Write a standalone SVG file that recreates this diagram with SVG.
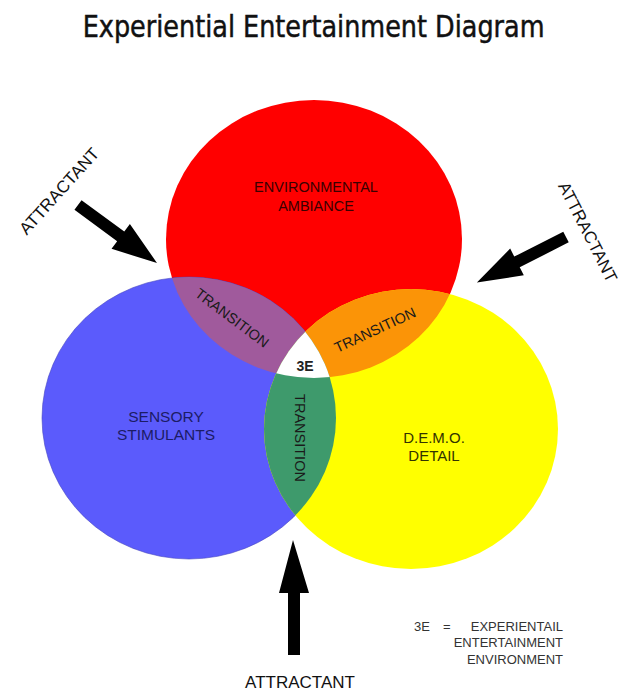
<svg xmlns="http://www.w3.org/2000/svg" width="625" height="694" viewBox="0 0 625 694">
  <style>
    .lbl { font-family: "Liberation Sans", Arial, sans-serif; text-anchor: middle; }
    .att { font-family: "Liberation Sans", Arial, sans-serif; font-size: 17px; fill: #111; text-anchor: middle; }
    .tr { font-family: "Liberation Sans", Arial, sans-serif; font-size: 14.5px; fill: #1a1a1a; text-anchor: middle; }
    .leg { font-family: "Liberation Sans", Arial, sans-serif; font-size: 13px; fill: #333; }
    .arrow { fill: #000; }
  </style>
  <defs>
    <clipPath id="cRed"><ellipse cx="314" cy="239" rx="148" ry="139"/></clipPath>
    <clipPath id="cBlue"><ellipse cx="189" cy="418" rx="147" ry="141"/></clipPath>
    <clipPath id="cYellow"><ellipse cx="411" cy="429" rx="147" ry="140"/></clipPath>
  </defs>
  <rect width="625" height="694" fill="#ffffff"/>

  <g id="title" transform="scale(0.85,1)">
    <text x="369" y="37" font-family="'DejaVu Sans', sans-serif" font-size="30" fill="#111" stroke="#111" stroke-width="0.5" text-anchor="middle">Experiential Entertainment Diagram</text>
  </g>

  <g id="environmental-ambiance">
    <ellipse cx="314" cy="239" rx="148" ry="139" fill="#ff0000"/>
  </g>
  <g id="sensory-stimulants">
    <ellipse cx="189" cy="418" rx="147" ry="141" fill="#5b5bfc" stroke="#4444c0" stroke-width="0.6"/>
  </g>
  <g id="demo-detail">
    <ellipse cx="411" cy="429" rx="147" ry="140" fill="#ffff00"/>
  </g>
  <g id="transition-purple">
    <ellipse cx="189" cy="418" rx="147" ry="141" fill="#a05a9c" clip-path="url(#cRed)"/>
  </g>
  <g id="transition-orange">
    <ellipse cx="411" cy="429" rx="147" ry="140" fill="#fb9407" clip-path="url(#cRed)"/>
  </g>
  <g id="transition-green">
    <ellipse cx="189" cy="418" rx="147" ry="141" fill="#3e9a6c" clip-path="url(#cYellow)"/>
  </g>
  <g id="center-3e">
    <g clip-path="url(#cRed)">
      <ellipse cx="411" cy="429" rx="147" ry="140" fill="#ffffff" clip-path="url(#cBlue)"/>
    </g>
    <text class="lbl" x="305" y="371" font-size="14" font-weight="bold" fill="#222">3E</text>
  </g>

  <g id="labels">
    <text class="lbl" x="316" y="192" font-size="14.5" fill="#3a0000">ENVIRONMENTAL</text>
    <text class="lbl" x="316" y="211" font-size="14.5" fill="#3a0000">AMBIANCE</text>
    <text class="lbl" x="166" y="422" font-size="15.5" fill="#1c1c66">SENSORY</text>
    <text class="lbl" x="166" y="440" font-size="15.5" fill="#1c1c66">STIMULANTS</text>
    <text class="lbl" x="434" y="443" font-size="15" fill="#333300">D.E.M.O.</text>
    <text class="lbl" x="434" y="461" font-size="15" fill="#333300">DETAIL</text>
    <text class="tr" transform="translate(232,318) rotate(37)" y="5">TRANSITION</text>
    <text class="tr" transform="translate(375,330) rotate(-25)" y="5">TRANSITION</text>
    <text class="tr" transform="translate(300,438) rotate(90)" y="5">TRANSITION</text>
  </g>

  <g id="connectors">
    <path class="arrow" transform="translate(78,205) rotate(36.3)" d="M0,-6 H53 V-15.5 L98,0 L53,15.5 V6 H0 Z"/>
    <path class="arrow" transform="translate(566,237) rotate(153)" d="M0,-6 H55 V-15 L100,0 L55,15 V6 H0 Z"/>
    <path class="arrow" d="M288,655 V593 H279 L293,540 L309,593 H300 V655 Z"/>
  </g>

  <g id="attractants">
    <text class="att" transform="translate(59,191) rotate(-48)" y="6">ATTRACTANT</text>
    <text class="att" transform="translate(588,232) rotate(63)" y="6">ATTRACTANT</text>
    <text class="att" x="300" y="688">ATTRACTANT</text>
  </g>

  <g id="legend">
    <text class="leg" x="414" y="631">3E</text>
    <text class="leg" x="443" y="631">=</text>
    <text class="leg" x="563" y="631" text-anchor="end">EXPERIENTAIL</text>
    <text class="leg" x="563" y="647" text-anchor="end">ENTERTAINMENT</text>
    <text class="leg" x="563" y="664" text-anchor="end">ENVIRONMENT</text>
  </g>
</svg>
